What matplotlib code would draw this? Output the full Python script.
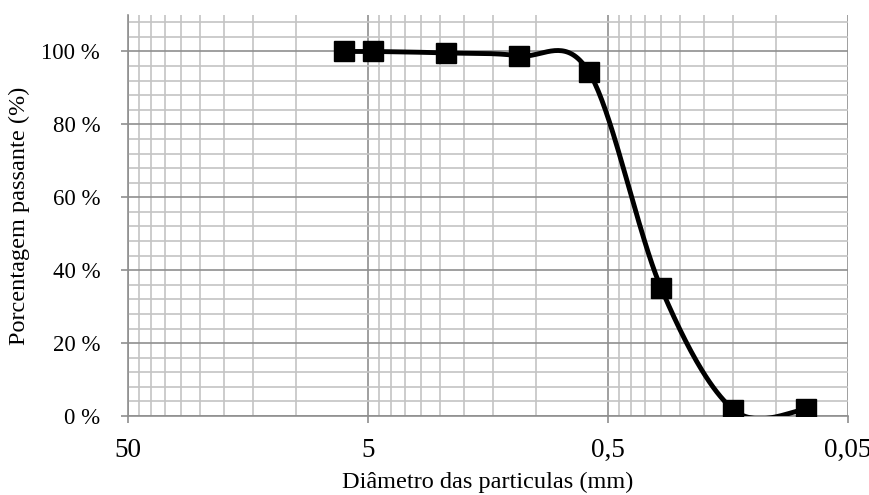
import numpy as np
import matplotlib
matplotlib.use("Agg")
import matplotlib.pyplot as plt
from matplotlib.ticker import FixedLocator, FuncFormatter

# curva granulometrica
diametro = [6.3, 4.75, 2.36, 1.18, 0.6, 0.3, 0.15, 0.075]   # mm
passante = [100.0, 100.0, 99.6, 98.8, 94.3, 35.0, 1.7, 1.8]  # %

x_ticks = [50, 5, 0.5, 0.05]
x_minor = [k * b for b in [5, 0.5, 0.05] for k in range(2, 10)]
y_ticks = [0, 20, 40, 60, 80, 100]
y_minor = list(range(4, 112, 4))

plt.rcParams['font.family'] = ['Liberation Serif', 'DejaVu Serif']
plt.rcParams['font.size'] = 16


def suavizar(xs, ys, n=40):
    # linha suavizada tipo Excel (bezier com tangentes de catmull-rom)
    # feita em coordenadas proximas da tela: log(x) e y
    u = np.log10(50.0 / np.array(xs)) * 240.0
    v = np.array(ys) * 3.64
    pts = np.column_stack([u, v])
    out = []
    m = len(pts)
    for i in range(m - 1):
        p0 = pts[max(i - 1, 0)]
        p1 = pts[i]
        p2 = pts[i + 1]
        p3 = pts[min(i + 2, m - 1)]
        c1 = p1 + (p2 - p0) / 6.0
        c2 = p2 - (p3 - p1) / 6.0
        t = np.linspace(0, 1, n)[:, None]
        seg = ((1 - t) ** 3) * p1 + 3 * ((1 - t) ** 2) * t * c1 + 3 * (1 - t) * t ** 2 * c2 + t ** 3 * p2
        out.append(seg)
    out = np.vstack(out)
    return 50.0 / 10 ** (out[:, 0] / 240.0), out[:, 1] / 3.64


fig = plt.figure(figsize=(8.7, 4.95), dpi=100)
ax = fig.add_axes([128 / 870, 79 / 495, 720 / 870, 401 / 495])

ax.set_xscale('log')
ax.set_xlim(50, 0.05)
ax.set_ylim(0, 110)

ax.xaxis.set_major_locator(FixedLocator(x_ticks))
ax.xaxis.set_minor_locator(FixedLocator(x_minor))
ax.xaxis.set_major_formatter(FuncFormatter(lambda v, p: f"{v:g}".replace('.', ',')))
ax.xaxis.set_minor_formatter(FuncFormatter(lambda v, p: ""))
ax.yaxis.set_major_locator(FixedLocator(y_ticks))
ax.yaxis.set_minor_locator(FixedLocator(y_minor))
ax.yaxis.set_major_formatter(FuncFormatter(lambda v, p: f"{int(v)} %"))

ax.grid(which='minor', color='#c4c4c4', linewidth=1.2, zorder=0)
ax.grid(which='major', color='#8f8f8f', linewidth=1.2, zorder=0)
ax.set_axisbelow(True)

for s in ['top', 'right']:
    ax.spines[s].set_visible(False)
for s in ['left', 'bottom']:
    ax.spines[s].set_color('#8f8f8f')
    ax.spines[s].set_linewidth(1.2)

ax.tick_params(which='major', length=5, width=1.2, color='#8f8f8f')
ax.tick_params(axis='x', which='major', pad=11, labelsize=19.5)
ax.tick_params(axis='y', which='major', pad=15, labelsize=16.5)
ax.tick_params(which='minor', length=0)

xs, ys = suavizar(diametro, passante)
ax.plot(xs, ys, color='black', linewidth=3.5, zorder=3, solid_capstyle='round')
ax.plot(diametro, passante, linestyle='none', marker='s', markersize=14.5,
        color='black', zorder=4)

ax.set_xlabel("Diâmetro das particulas (mm)", fontsize=17.5, labelpad=6)
ax.set_ylabel("Porcentagem passante (%)", fontsize=17.5, labelpad=8)

fig.savefig("out.png", dpi=100)
